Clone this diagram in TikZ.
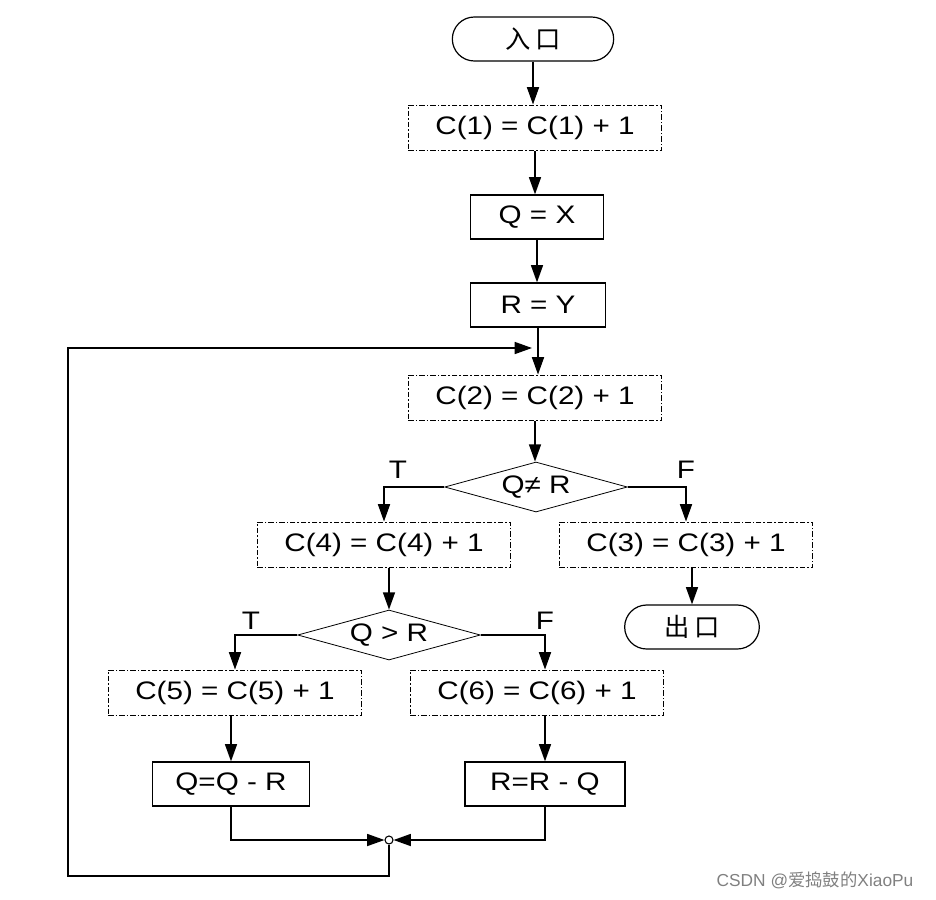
\documentclass[tikz,border=0pt]{standalone}
\usepackage{fontspec}
\setmainfont{Liberation Sans}[FakeStretch=1.17]
\newfontfamily\markfont{Liberation Sans}
\newfontfamily\cjk{Noto Sans CJK SC}
\usetikzlibrary{shapes.geometric,shapes.misc,arrows.meta}

\tikzset{
	count/.style={draw, dash pattern=on 4pt off 1.5pt on 1.2pt off 1.5pt, line width=1.2pt,
		minimum width=190pt, minimum height=34pt, inner sep=0pt},
	assign/.style={draw, line width=0.9pt, minimum height=33pt, inner sep=0pt},
	term/.style={draw, rounded rectangle, line width=0.9pt, minimum height=33pt, inner sep=0pt},
	test/.style={draw, diamond, aspect=3.65, line width=0.6pt,
		minimum width=137pt, minimum height=37.5pt, inner sep=0pt},
	arr/.style={line width=1.2pt, -{Triangle[length=13pt,width=9pt]}},
	link/.style={line width=1.2pt}
}

\begin{document}
\begin{tikzpicture}[x=0.75pt, y=-0.75pt, font=\fontsize{19}{21}\selectfont]
	\useasboundingbox (0,0) rectangle (936,900);
	
	% main column
	\node[term, minimum width=121pt] (entry) at (533,39) {\cjk 入\hspace{4pt}口};
	\node[count] (c1) at (535,128) {C(1) = C(1) + 1};
	\node[assign, minimum width=100pt] (qx) at (537,217) {Q = X};
	\node[assign, minimum width=101pt] (ry) at (538,305) {R = Y};
	\node[count] (c2) at (535,398) {C(2) = C(2) + 1};
	\node[test] (ne) at (536,487) {Q≠ R};
	\node (t1) at (398,470) {T}; \node (f1) at (686,470) {F};
	
	% two branches
	\node[count] (c4) at (384,545) {C(4) = C(4) + 1};
	\node[count] (c3) at (686,545) {C(3) = C(3) + 1};
	\node[term, minimum width=101pt] (exit) at (692,627) {\cjk 出\hspace{4pt}口};
	\node[test] (gt) at (389,635) {Q > R};
	\node (t2) at (251,621) {T}; \node (f2) at (545,621) {F};
	\node[count] (c5) at (235,693) {C(5) = C(5) + 1};
	\node[count] (c6) at (537,693) {C(6) = C(6) + 1};
	\node[assign, minimum width=118pt] (qr) at (231,784) {Q=Q - R};
	\node[assign, minimum width=120pt] (rq) at (545,784) {R=R - Q};
	\node[draw, circle, inner sep=0pt, minimum size=6pt, line width=0.8pt] (jn) at (389,840) {};
	\coordinate (corner) at (68,876);
	\coordinate (back) at (532,348);
	
	\node[text=gray, font=\markfont\fontsize{13}{15}\selectfont] (mark) at (815,880) {CSDN @{\cjk 爱捣鼓的}XiaoPu};
	
	% connectors
	\draw[arr] (entry.south) -- (entry.south |- c1.north);
	\draw[arr] (c1.south) -- (c1.south |- qx.north);
	\draw[arr] (qx.south) -- (qx.south |- ry.north);
	\draw[arr] (ry.south) -- (ry.south |- c2.north);
	\draw[arr] (c2.south) -- (c2.south |- ne.north);
	\draw[arr] (ne.west) -| (c4.north);
	\draw[arr] (ne.east) -| (c3.north);
	\draw[arr] (c3.south -| exit.north) -- (exit.north);
	\draw[arr] (c4.south -| gt.north) -- (gt.north);
	\draw[arr] (gt.west) -| (c5.north);
	\draw[arr] (gt.east) -| (rq.north |- c6.north);
	\draw[arr] (qr.north |- c5.south) -- (qr.north);
	\draw[arr] (rq.north |- c6.south) -- (rq.north);
	\draw[arr] (qr.south) |- (jn.west);
	\draw[arr] (rq.south) |- (jn.east);
	\draw[arr] (jn.south) |- (corner) |- (back);
\end{tikzpicture}
\end{document}
